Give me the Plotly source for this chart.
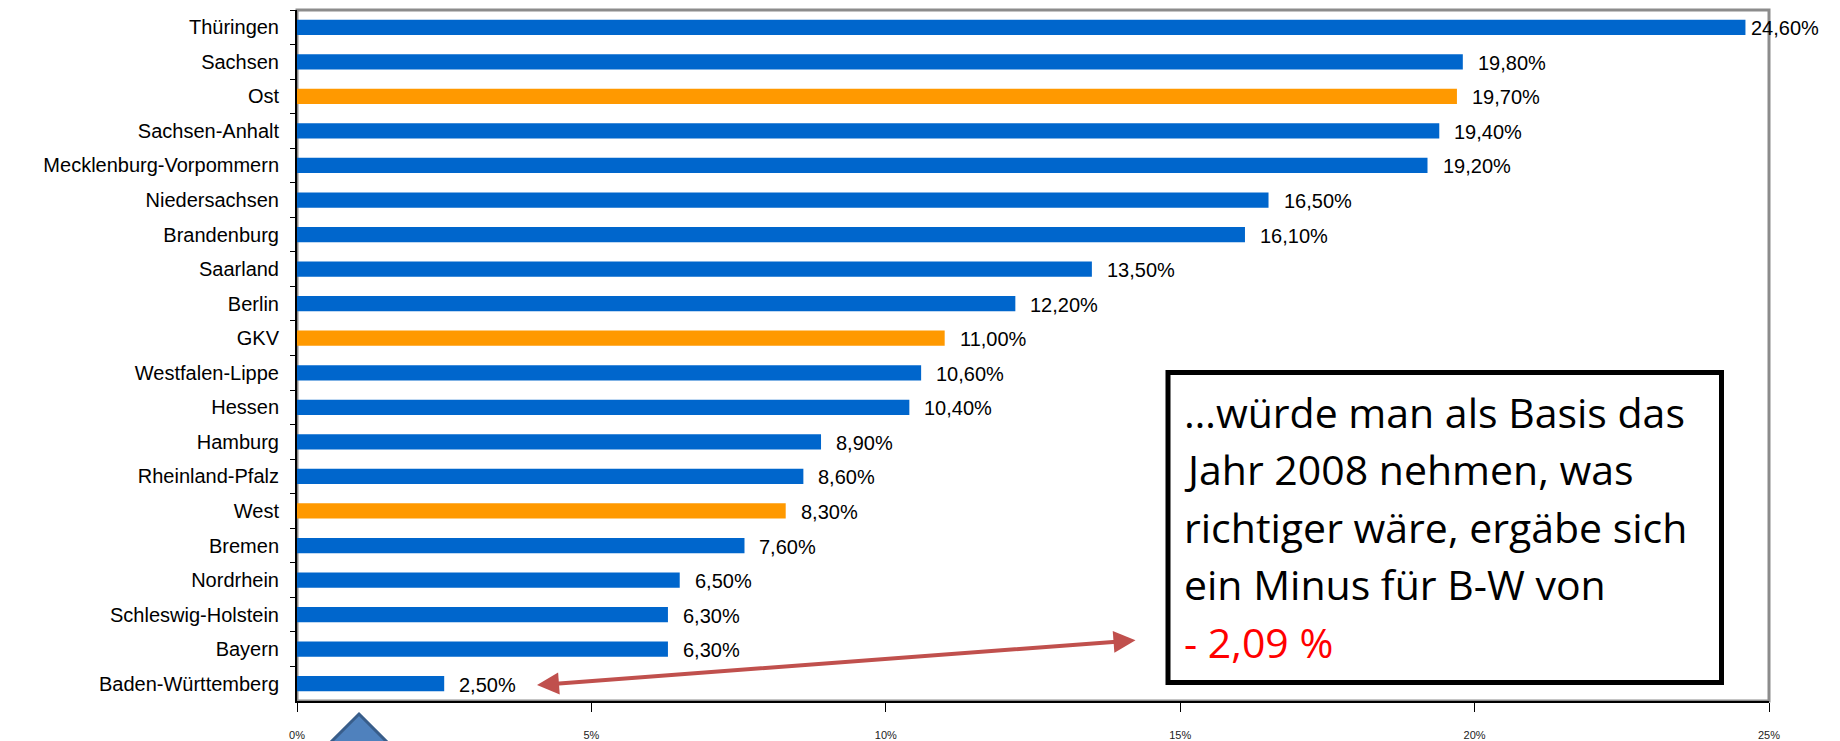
import plotly.graph_objects as go

categories = ["Thüringen", "Sachsen", "Ost", "Sachsen-Anhalt", "Mecklenburg-Vorpommern",
              "Niedersachsen", "Brandenburg", "Saarland", "Berlin", "GKV",
              "Westfalen-Lippe", "Hessen", "Hamburg", "Rheinland-Pfalz", "West",
              "Bremen", "Nordrhein", "Schleswig-Holstein", "Bayern", "Baden-Württemberg"]
values = [24.6, 19.8, 19.7, 19.4, 19.2, 16.5, 16.1, 13.5, 12.2, 11.0,
          10.6, 10.4, 8.9, 8.6, 8.3, 7.6, 6.5, 6.3, 6.3, 2.5]
highlight = ["Ost", "GKV", "West"]
x_ticks = [0, 5, 10, 15, 20, 25]
x_ticktext = ["0%", "5%", "10%", "15%", "20%", "25%"]
box_lines = ["…würde man als Basis das", "Jahr 2008 nehmen, was",
             "richtiger wäre, ergäbe sich", "ein Minus für B-W von"]
box_last = "- 2,09 %"

BLUE = "#0066CC"
ORANGE = "#FF9900"

W, H = 1840, 741
L, R, T, B = 297, 71, 10, 40
PW = W - L - R
PH = H - T - B


def px2paper(px, py):
    return (px - L) / PW, (H - B - py) / PH


colors = [ORANGE if c in highlight else BLUE for c in categories]
labels = [f"{v:.2f}".replace(".", ",") + "%" for v in values]

fig = go.Figure()
fig.add_trace(go.Bar(
    x=values, y=categories, orientation="h",
    marker=dict(color=colors, line=dict(width=0)),
    hoverinfo="skip",
))

annotations = []
for c, v, lab in zip(categories, values, labels):
    shift = 4 if v >= 24 else 13
    annotations.append(dict(
        x=v, y=c, xref="x", yref="y", text=lab, showarrow=False,
        xanchor="left", yanchor="middle", xshift=shift, yshift=-1,
        font=dict(family="Liberation Sans, Arial, sans-serif", size=20, color="#000000"),
    ))

# callout text
fs = 41
baselines = [426.7, 484.2, 541.7, 599.2, 656.7]
for i, line in enumerate(box_lines + [box_last]):
    xp, yp = px2paper(1182, baselines[i] - 0.36 * fs)
    annotations.append(dict(
        x=xp, y=yp, xref="paper", yref="paper", text=line, showarrow=False,
        xanchor="left", yanchor="middle", align="left",
        font=dict(family="Open Sans, Noto Sans, sans-serif", size=fs,
                  color="#FF0000" if i == 4 else "#000000"),
    ))

# double-headed arrow
x0d = (537 - L) / PW * 25
annotations.append(dict(
    x=x0d, y=19.04, xref="x", yref="y", ax=1137 - 537, ay=642 - 687,
    axref="pixel", ayref="pixel", text="", showarrow=True,
    arrowhead=2, startarrowhead=2, arrowside="end+start",
    arrowsize=1.1, startarrowsize=1.1, arrowwidth=4, arrowcolor="#C0504D",
    standoff=0, startstandoff=0,
))

shapes = []
# plot frame (gray)
shapes.append(dict(type="rect", xref="paper", yref="paper", x0=0, x1=1, y0=0, y1=1,
                   line=dict(color="#8C8C8C", width=3), layer="below"))
# callout box
bx0, by0 = px2paper(1168, 372.5)
bx1, by1 = px2paper(1721.5, 682.5)
shapes.append(dict(type="rect", xref="paper", yref="paper", x0=bx0, x1=bx1, y0=by1, y1=by0,
                   fillcolor="#FFFFFF", line=dict(color="#000000", width=5), layer="above"))
# blue triangle at bottom left
tx, ty = px2paper(359, 714)
ax1, ay1 = px2paper(359 - 80, 794)
ax2, ay2 = px2paper(359 + 80, 794)
shapes.append(dict(type="path", xref="paper", yref="paper",
                   path=f"M {tx} {ty} L {ax2} {ay2} L {ax1} {ay1} Z",
                   fillcolor="#4F81BD", line=dict(color="#385D8A", width=3), layer="above"))

fig.update_layout(
    width=W, height=H,
    margin=dict(l=L, r=R, t=T, b=B, pad=0, autoexpand=False),
    paper_bgcolor="#FFFFFF", plot_bgcolor="#FFFFFF",
    showlegend=False, bargap=0.56,
    annotations=annotations, shapes=shapes,
    font=dict(family="Liberation Sans, Arial, sans-serif", color="#000000"),
)
fig.update_xaxes(
    range=[0, 25], tickvals=x_ticks, ticktext=x_ticktext, automargin=False,
    showgrid=False, zeroline=False,
    showline=True, linecolor="#000000", linewidth=2,
    ticks="outside", ticklen=9, tickwidth=1, tickcolor="#000000",
    ticklabelstandoff=14,
    tickfont=dict(family="Liberation Sans, Arial, sans-serif", size=11, color="#222222"),
)
fig.update_yaxes(
    categoryorder="array", categoryarray=categories, range=[19.5, -0.5],
    automargin=False,
    showgrid=False, zeroline=False,
    showline=True, linecolor="#000000", linewidth=2,
    ticks="outside", ticklen=5, tickwidth=1, tickcolor="#000000", tickson="boundaries",
    ticklabelstandoff=12,
    tickfont=dict(family="Liberation Sans, Arial, sans-serif", size=20, color="#000000"),
)

fig.write_html("out.html", config={"displayModeBar": False})

with open("out.html", "r", encoding="utf-8") as f:
    html = f.read()
html = html.replace("<head>", "<head><style>html,body{margin:0;padding:0;overflow:hidden;}</style>", 1)
with open("out.html", "w", encoding="utf-8") as f:
    f.write(html)
